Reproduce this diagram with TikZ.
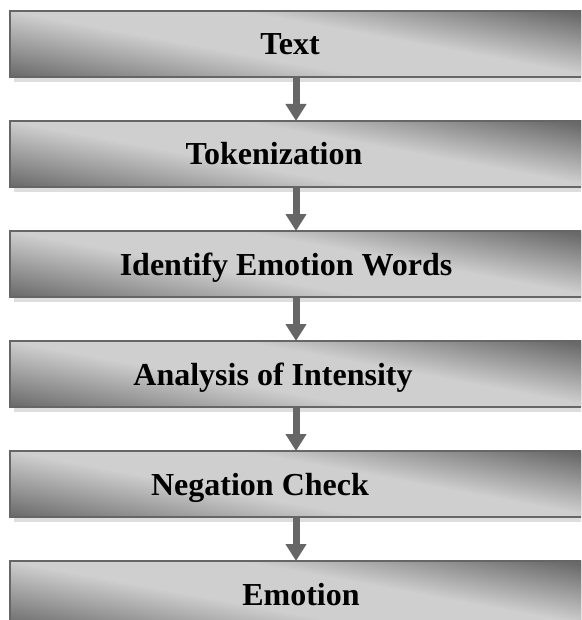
\documentclass[tikz,border=0pt]{standalone}
\usepackage{fontspec}
\setmainfont{Liberation Serif}
\usepackage{xcolor}
\usetikzlibrary{positioning,arrows.meta}
\definecolor{boxedge}{RGB}{102,102,102}
\definecolor{boxshadow}{RGB}{222,222,222}
% dark lower left, light band, dark upper right
\pgfdeclarefunctionalshading{stagefn}{\pgfpointorigin}{\pgfpoint{100bp}{100bp}}{}{
    exch 1.6 mul add 65 sub 50 div
    dup 1.0 exch sub 1.0 div
    dup 0 lt {pop 0} if dup 1 gt {pop 1} if
    exch 1.65 sub 0.9 div
    dup 0 lt {pop 0} if dup 1 gt {pop 1} if
    add 0.4 mul 0.81 exch sub dup dup
}

\begin{document}
\begin{tikzpicture}[
        x=1pt, y=1pt,
        stage/.style={rectangle, draw=boxedge, line width=1.5pt, outer sep=0pt,
            minimum width=572pt, minimum height=66pt,
            shade, shading=stagefn,
            preaction={fill=boxshadow, transform canvas={shift={(4pt,-5pt)}}}},
        lbl/.style={anchor=base, font=\fontsize{32}{38}\selectfont\bfseries},
        flow/.style={-{Triangle[width=20pt,length=17pt]}, line width=7pt, draw=boxedge}
    ]
        \useasboundingbox (0,0) rectangle (581,-620);
        \clip (0,0) rectangle (581,-620);

        % stages
        \node[stage] (text) at (296,-44) {};
        \node[stage, below=44pt of text] (token) {};
        \node[stage, below=44pt of token] (words) {};
        \node[stage, below=44pt of words] (intensity) {};
        \node[stage, below=44pt of intensity] (negation) {};
        \node[stage, below=44pt of negation] (emotion) {};

        \node[lbl] (textlbl) at ([xshift=-6pt, yshift=-11pt]text.center) {Text};
        \node[lbl] (tokenlbl) at ([xshift=-22pt, yshift=-11pt]token.center) {Tokenization};
        \node[lbl] (wordslbl) at ([xshift=-10pt, yshift=-11pt]words.center) {Identify Emotion Words};
        \node[lbl] (intensitylbl) at ([xshift=-23pt, yshift=-11pt]intensity.center) {Analysis of Intensity};
        \node[lbl] (negationlbl) at ([xshift=-36pt, yshift=-11pt]negation.center) {Negation Check};
        \node[lbl] (emotionlbl) at ([xshift=5pt, yshift=-11pt]emotion.center) {Emotion};

        % flow
        \draw[flow] (text) -- (token);
        \draw[flow] (token) -- (words);
        \draw[flow] (words) -- (intensity);
        \draw[flow] (intensity) -- (negation);
        \draw[flow] (negation) -- (emotion);
    \end{tikzpicture}
\end{document}
